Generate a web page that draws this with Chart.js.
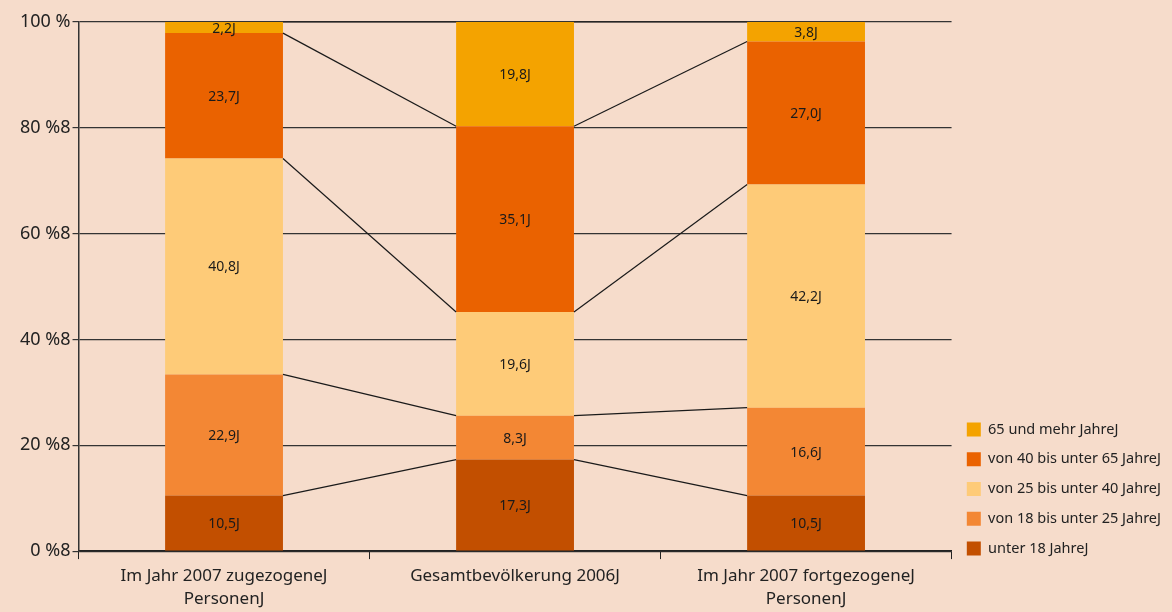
<!DOCTYPE html>
<html>
<head>
<meta charset="utf-8">
<script src="https://cdn.jsdelivr.net/npm/chart.js@4/dist/chart.umd.min.js"></script>
<style>
  html, body { margin: 0; padding: 0; background: #f6dccb; }
  #wrap { width: 1172px; height: 612px; position: relative; }
</style>
</head>
<body>
<div id="wrap"><canvas id="chart"></canvas></div>
<script>
// Data
const categories = [
    ['Im Jahr 2007 zugezogeneJ', 'PersonenJ'],
    'Gesamtbevölkerung 2006J',
    ['Im Jahr 2007 fortgezogeneJ', 'PersonenJ']
];
const seriesNames = ['unter 18 JahreJ', 'von 18 bis unter 25 JahreJ', 'von 25 bis unter 40 JahreJ', 'von 40 bis unter 65 JahreJ', '65 und mehr JahreJ'];
const under18 = [10.5, 17.3, 10.5];
const from18to25 = [22.9, 8.3, 16.6];
const from25to40 = [40.8, 19.6, 42.2];
const from40to65 = [23.7, 35.1, 27.0];
const over65 = [2.2, 19.8, 3.8];
const yTicks = [0, 20, 40, 60, 80, 100];

const colors = ['#c24f00', '#f38734', '#fecb78', '#ea6200', '#f4a300'];
const values = [under18, from18to25, from25to40, from40to65, over65];

const fontFamily = '"Noto Sans", "Open Sans", sans-serif';

// Lines connecting segment tops between neighbouring bars
const seriesLines = {
    id: 'seriesLines',
    afterDatasetsDraw(chart) {
        const ctx = chart.ctx;
        ctx.save();
        ctx.strokeStyle = '#1a1a1a';
        ctx.lineWidth = 1.2;
        chart.data.datasets.forEach((ds, d) => {
            const bars = chart.getDatasetMeta(d).data;
            for (let i = 0; i < bars.length - 1; i++) {
                const a = bars[i], b = bars[i + 1];
                ctx.beginPath();
                ctx.moveTo(a.x + a.width / 2, Math.max(a.y, chart.chartArea.top));
                ctx.lineTo(b.x - b.width / 2, Math.max(b.y, chart.chartArea.top));
                ctx.stroke();
            }
        });
        ctx.restore();
    }
};

// Values in the middle of each segment
const segmentLabels = {
    id: 'segmentLabels',
    afterDatasetsDraw(chart) {
        const ctx = chart.ctx;
        ctx.save();
        ctx.font = '14px ' + fontFamily;
        ctx.fillStyle = '#1a1a1a';
        ctx.textAlign = 'center';
        ctx.textBaseline = 'middle';
        chart.data.datasets.forEach((ds, d) => {
            chart.getDatasetMeta(d).data.forEach((bar, i) => {
                const top = Math.max(bar.y, chart.chartArea.top);
                const txt = ds.data[i].toFixed(1).replace('.', ',') + 'J';
                ctx.fillText(txt, bar.x, (top + bar.base) / 2 + 1);
            });
        });
        ctx.restore();
    }
};

// Lift the legend block so it ends near the bottom of the plot
const legendLift = {
    id: 'legendLift',
    afterLayout(chart) {
        if (chart.legend) chart.legend.bottom -= 46;
    }
};

new Chart(document.getElementById('chart'), {
    type: 'bar',
    data: {
        labels: categories,
        datasets: values.map((v, k) => ({
            label: seriesNames[k],
            data: v,
            backgroundColor: colors[k],
            borderWidth: 0,
            categoryPercentage: 1,
            barPercentage: 0.405
        }))
    },
    options: {
        responsive: true,
        maintainAspectRatio: false,
        animation: false,
        layout: { padding: { top: 22, right: 1, bottom: -5, left: 18 } },
        plugins: {
            tooltip: { enabled: false },
            legend: {
                position: 'right',
                align: 'end',
                reverse: true,
                labels: {
                    boxWidth: 14,
                    boxHeight: 14,
                    padding: 15.25,
                    color: '#222',
                    font: { family: fontFamily, size: 14.5 }
                }
            }
        },
        scales: {
            x: {
                stacked: true,
                offset: true,
                grid: {
                    offset: true,
                    drawOnChartArea: false,
                    drawTicks: true,
                    tickLength: 8,
                    color: '#222'
                },
                border: { color: '#222', width: 1.5 },
                ticks: {
                    color: '#222',
                    padding: 6,
                    maxRotation: 0,
                    font: { family: fontFamily, size: 17, lineHeight: 1.35 }
                }
            },
            y: {
                stacked: true,
                min: 0,
                max: 100,
                afterBuildTicks(axis) { axis.ticks = yTicks.map(v => ({ value: v })); },
                grid: { color: '#333', lineWidth: 1.2, tickLength: 6 },
                border: { color: '#333', width: 1.5 },
                ticks: {
                    color: '#222',
                    padding: 2,
                    font: { family: fontFamily, size: 18 },
                    callback: v => v === 100 ? '100 %' : v + ' %8'
                }
            }
        }
    },
    plugins: [seriesLines, segmentLabels, legendLift]
});
</script>
</body>
</html>
